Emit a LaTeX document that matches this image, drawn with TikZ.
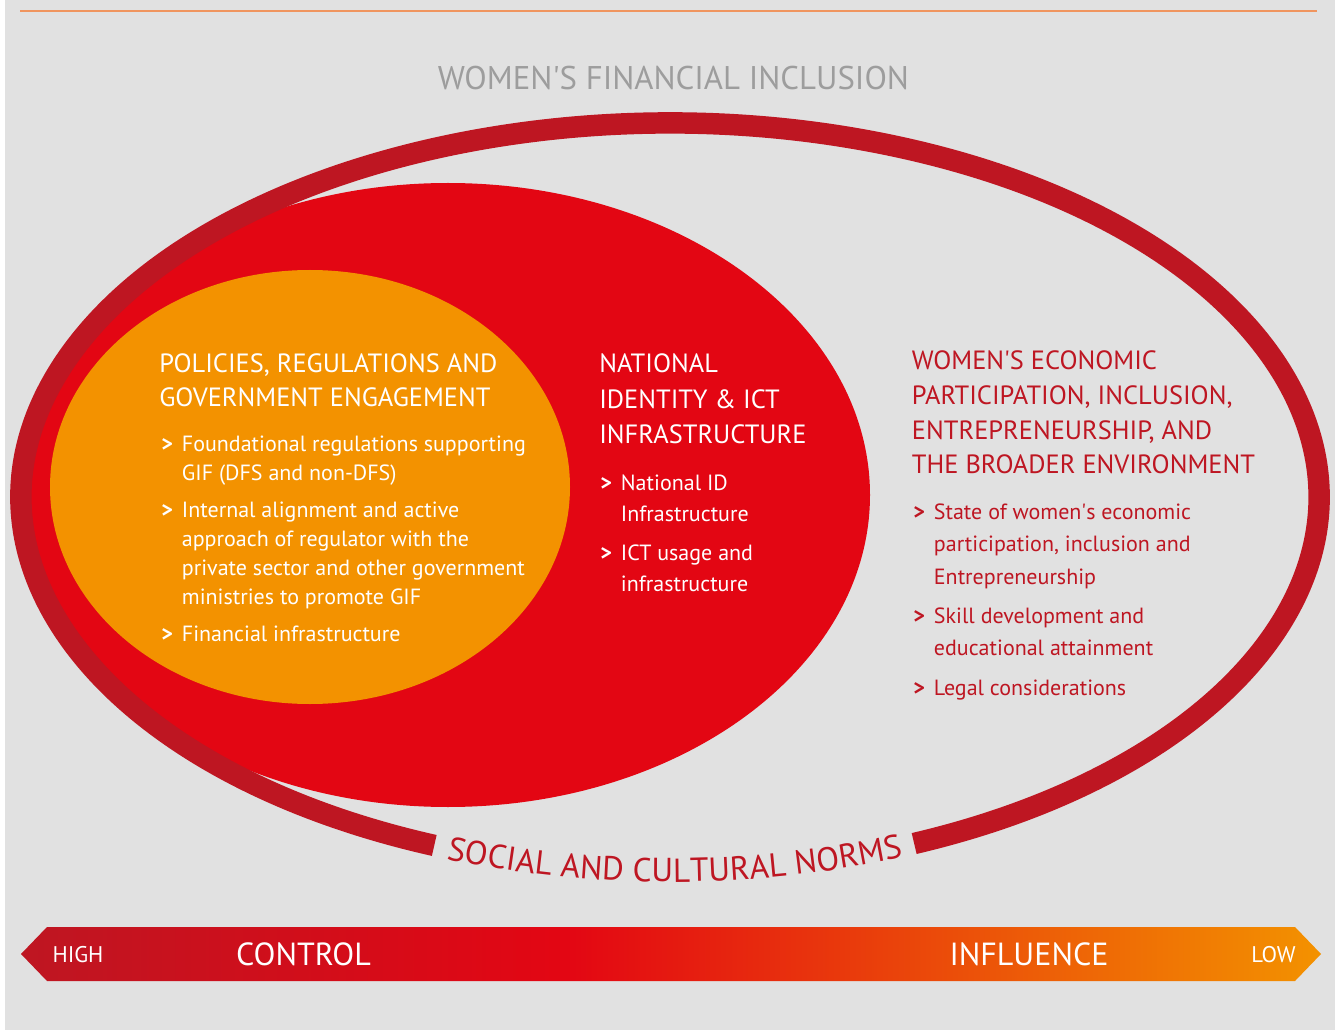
\documentclass[tikz,border=0pt]{standalone}
\usepackage{fontspec}
\setmainfont{PT Sans}
\usetikzlibrary{decorations.text}

\definecolor{bggray}{HTML}{E1E1E1}
\definecolor{ringred}{HTML}{BE1622}
\definecolor{midred}{HTML}{E30613}
\definecolor{coreorange}{HTML}{F39200}
\definecolor{titlegray}{HTML}{9D9D9D}
\definecolor{toprule}{HTML}{F0955F}

% control -> influence bar: dark red through red to orange
\pgfdeclarehorizontalshading{barshade}{100bp}{color(0bp)=(ringred); color(25bp)=(ringred);
  color(46bp)=(midred); color(75bp)=(coreorange); color(100bp)=(coreorange)}

% bullet marker and hanging indent
\newcommand{\mk}{\makebox[15.5pt][l]{\textbf{>}}}
\newcommand{\hang}{\hspace*{15.5pt}}
\newcommand{\apos}{\textquotesingle}

\begin{document}
\begin{tikzpicture}[x=0.75pt, y=-0.75pt,
    % multi-line nodes sit on the baseline of their last line
    head/.style={anchor=base west, inner sep=0pt, align=left, font=\fontsize{19.8}{25.8}\selectfont},
    items/.style={anchor=base west, inner sep=0pt, align=left, font=\fontsize{16.5}{21.75}\selectfont},
    bartext/.style={anchor=base, inner sep=0pt, text=white},
    ring/.style={draw=ringred, line width=16.1pt},
  ]
  \useasboundingbox (0,0) rectangle (1335,1030);
  \fill[bggray] (5,0) rectangle (1335,1030);
  \draw[toprule, line width=1.5pt] (20,11) -- (1317,11);

  % title
  \node[anchor=base, inner sep=0pt, text=titlegray, font=\fontsize{24.6}{30}\selectfont]
    (title) at (673.5,90) {WOMEN\apos S FINANCIAL INCLUSION};

  % nested areas
  \fill[midred] (448,495) ellipse [x radius=422, y radius=312];
  \fill[coreorange] (310,487) ellipse [x radius=260, y radius=217];

  % outer ring, open at the bottom for the norms label
  \coordinate (ctr) at (670,497);
  \draw[ring] ([shift={(111.3:649 and 374)}]ctr) arc[start angle=111.3, end angle=427.9, x radius=649, y radius=374];
  \path[decorate, decoration={text along path, text align=center,
      text={|\fontsize{25}{30}\selectfont\color{ringred}|SOCIAL AND CULTURAL NORMS}}]
    ([shift={(110.6:659 and 385)}]ctr) arc[start angle=110.6, end angle=68.5, x radius=659, y radius=385];

  % inner area
  \node[head, text=white] (polhead) at (159,406.7) {POLICIES, REGULATIONS AND\\GOVERNMENT ENGAGEMENT};
  \node[items, text=white] (politems) at (161,641.7) {%
    \mk Foundational regulations supporting\\\hang GIF (DFS and non-DFS)\\[6pt]
    \mk Internal alignment and active\\\hang approach of regulator with the\\
    \hang private sector and other government\\\hang ministries to promote GIF\\[6pt]
    \mk Financial infrastructure};

  % middle area
  \node[head, text=white, font=\fontsize{19.8}{26.25}\selectfont] (idhead) at (599,443)
    {NATIONAL\\IDENTITY \& ICT\\INFRASTRUCTURE};
  \node[items, text=white, font=\fontsize{16.5}{23.25}\selectfont] (iditems) at (600,591.7) {%
    \mk National ID\\\hang Infrastructure\\[6pt]
    \mk ICT usage and\\\hang infrastructure};

  % outer area
  \node[head, text=ringred, font=\fontsize{19.8}{26}\selectfont] (econhead) at (911.7,474)
    {WOMEN\apos S ECONOMIC\\PARTICIPATION, INCLUSION,\\ENTREPRENEURSHIP, AND\\THE BROADER ENVIRONMENT};
  \node[items, text=ringred, font=\fontsize{16.5}{24.4}\selectfont] (econitems) at (913,695) {%
    \mk State of women\apos s economic\\\hang participation, inclusion and\\\hang Entrepreneurship\\[5pt]
    \mk Skill development and\\\hang educational attainment\\[5pt]
    \mk Legal considerations};

  % control / influence bar
  \shade[shading=barshade] (21,954) -- (47,927) -- (1295,927) -- (1321,954) -- (1295,981) -- (47,981) -- cycle;
  \node[bartext, font=\fontsize{17}{20}\selectfont] (high) at (78,962.7) {HIGH};
  \node[bartext, font=\fontsize{24}{28}\selectfont] (control) at (303.5,965.7) {CONTROL};
  \node[bartext, font=\fontsize{24}{28}\selectfont] (influence) at (1029,965.7) {INFLUENCE};
  \node[bartext, font=\fontsize{17}{20}\selectfont] (low) at (1273.5,962.7) {LOW};
\end{tikzpicture}
\end{document}
